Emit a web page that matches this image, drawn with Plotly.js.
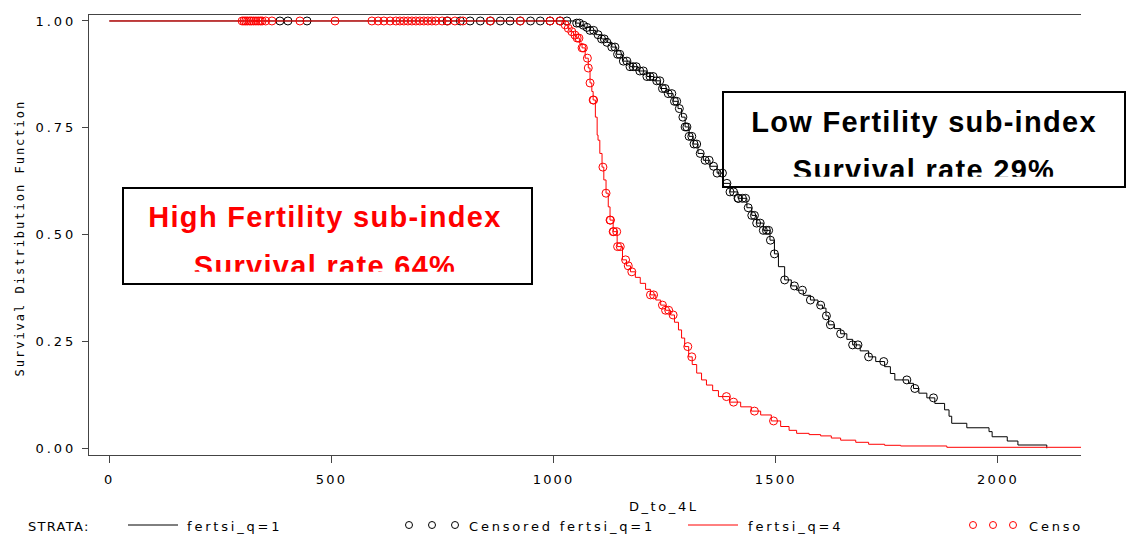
<!DOCTYPE html>
<html><head><meta charset="utf-8">
<script src="https://cdn.plot.ly/plotly-3.0.1.min.js"></script>
<style>
html,body{margin:0;padding:0;background:#fff;}
#chart{width:1126px;height:536px;}
.xtick text {letter-spacing:2.2px;}
.ytick text {letter-spacing:3px;}
.subplot.x2y2 .textpoint text, .subplot.x3y3 .textpoint text {letter-spacing:1.3px;}
.subplot.x4y4 .textpoint text {letter-spacing:2.8px;}
g.annotation[data-index="0"] text {letter-spacing:2px;}
g.annotation[data-index="1"] text {letter-spacing:2.6px;}
</style></head><body><div id="chart"></div>
<script>
// ---- data ----
var xTickVals = [0, 500, 1000, 1500, 2000];
var yTickVals = [0, 0.25, 0.5, 0.75, 1];
var yTickText = ['0.00', '0.25', '0.50', '0.75', '1.00'];

// Kaplan-Meier step curve, fertsi_q=1
var q1Time = [0,1050,1060,1070,1082,1095,1108,1120,1131,1142,1155,1172,1190,1210,1225,1240,1255,1269,1280,1288,1296,1305,1314,1325,1337,1352,1368,1382,1397,1415,1435,1446,1457,1472,1487,1497,1506,1520,1535,1547,1562,1578,1595,1605,1613,1619,1632,1646,1660,1673,1690,1709,1725,1745,1758,1768,1799,1810,1822,1840,1858,1880,1890,1896,1930,1980,1987,2021,2045,2110];
var q1Surv = [1,0.995,0.99,0.985,0.978,0.968,0.958,0.95,0.939,0.922,0.906,0.893,0.883,0.87,0.86,0.842,0.83,0.812,0.795,0.775,0.752,0.73,0.712,0.69,0.674,0.66,0.644,0.62,0.6,0.585,0.563,0.545,0.527,0.51,0.487,0.455,0.425,0.394,0.38,0.37,0.358,0.347,0.335,0.328,0.31,0.289,0.28,0.268,0.255,0.242,0.228,0.214,0.203,0.191,0.175,0.16,0.152,0.14,0.129,0.118,0.105,0.09,0.075,0.0585,0.048,0.039,0.027,0.017,0.0077,0];
// censored times, fertsi_q=1
var q1CensTime = [384,402,445,760,790,812,835,858,880,902,925,948,970,992,1015,1030,1052,1058,1067,1075,1082,1090,1100,1108,1114,1120,1131,1138,1144,1149,1157,1165,1172,1179,1186,1194,1202,1210,1217,1224,1232,1239,1245,1251,1258,1266,1272,1277,1283,1291,1296,1300,1305,1311,1316,1322,1330,1341,1350,1360,1368,1380,1390,1397,1405,1415,1416,1425,1432,1438,1446,1452,1457,1465,1472,1479,1484,1488,1497,1520,1542,1560,1578,1601,1614,1623,1646,1673,1685,1709,1743,1795,1813,1855];

// Kaplan-Meier step curve, fertsi_q=4
var q4Time = [0,1026,1032,1037,1045,1052,1058,1064,1071,1078,1082,1086,1089,1094,1098,1100,1104,1109,1113,1118,1123,1127,1134,1143,1155,1164,1173,1184,1195,1207,1218,1230,1241,1252,1263,1272,1281,1288,1295,1304,1312,1322,1333,1344,1358,1371,1396,1421,1445,1466,1490,1511,1530,1547,1575,1601,1625,1646,1680,1709,1745,1781,1885,2200];
var q4Surv = [1,0.991,0.983,0.975,0.967,0.96,0.948,0.937,0.913,0.89,0.855,0.835,0.815,0.775,0.733,0.721,0.69,0.658,0.628,0.597,0.565,0.534,0.507,0.472,0.441,0.427,0.413,0.4,0.386,0.372,0.359,0.347,0.335,0.323,0.312,0.295,0.277,0.258,0.238,0.214,0.196,0.176,0.16,0.148,0.135,0.121,0.108,0.097,0.087,0.078,0.064,0.051,0.042,0.035,0.032,0.029,0.024,0.019,0.014,0.0094,0.007,0.0054,0.0023,0.0023];
// censored times, fertsi_q=4
var q4CensTime = [299,303,307,311,316,320,325,330,335,340,344,352,366,429,508,591,605,618,632,645,654,663,672,681,690,699,708,717,726,735,749,762,778,796,857,925,992,1014,1026,1033,1041,1048,1053,1057,1064,1067,1076,1078,1082,1089,1090,1111,1118,1127,1128,1134,1135,1142,1144,1150,1162,1168,1176,1218,1225,1245,1252,1259,1269,1302,1311,1389,1405,1452,1495];

var legendLabels = ['STRATA:', 'fertsi_q=1', 'Censored fertsi_q=1', 'fertsi_q=4', 'Censored fertsi_q=4'];
var highBoxText = ['High Fertility sub-index', 'Survival rate 64%'];
var lowBoxText = ['Low Fertility sub-index', 'Survival rate 29%'];
var xTitle = 'D_to_4L';
var yTitle = 'Survival Distribution Function';

// survival value of a step curve at time t (places censor marks on the curve)
function survAt(times, surv, t) {
  var s = surv[0];
  for (var i = 0; i < times.length; i++) { if (times[i] <= t) s = surv[i]; }
  return s;
}
var q1CensSurv = q1CensTime.map(function (t) { return survAt(q1Time, q1Surv, t); });
var q4CensSurv = q4CensTime.map(function (t) { return survAt(q4Time, q4Surv, t); });

// ---- layout helpers (pixel -> paper) ----
var W = 1126, H = 536;
function px(x) { return x / W; }
function py(y) { return 1 - y / H; }

var BLACK = '#000000', RED = '#ff0000', AXIS = '#444444';
var sans = 'Liberation Sans, Arial, sans-serif';
var wide = 'DejaVu Sans, sans-serif';

var traces = [
  {x: q1Time, y: q1Surv, mode: 'lines', line: {color: BLACK, width: 1, shape: 'hv'}, hoverinfo: 'skip'},
  {x: q1CensTime, y: q1CensSurv, mode: 'markers', marker: {symbol: 'circle-open', size: 8, color: BLACK, line: {width: 1}}, hoverinfo: 'skip'},
  {x: q4Time, y: q4Surv, mode: 'lines', line: {color: RED, width: 1, shape: 'hv'}, hoverinfo: 'skip'},
  {x: q4CensTime, y: q4CensSurv, mode: 'markers', marker: {symbol: 'circle-open', size: 8, color: RED, line: {width: 1}}, hoverinfo: 'skip'},
  // box texts (clipped inside their boxes)
  {xaxis: 'x2', yaxis: 'y2', x: [325, 325], y: [219.75, 268.75], mode: 'text', text: highBoxText,
   textposition: 'middle center', textfont: {family: sans, size: 29, color: RED, weight: 'bold'}, hoverinfo: 'skip'},
  {xaxis: 'x3', yaxis: 'y3', x: [924, 924], y: [124.45, 172.75], mode: 'text', text: lowBoxText,
   textposition: 'middle center', textfont: {family: sans, size: 29, color: BLACK, weight: 'bold'}, hoverinfo: 'skip'},
  // legend row
  {xaxis: 'x4', yaxis: 'y4', x: [128, 178], y: [0.5, 0.5], mode: 'lines', line: {color: BLACK, width: 1}, hoverinfo: 'skip'},
  {xaxis: 'x4', yaxis: 'y4', x: [409, 432, 455], y: [0.5, 0.5, 0.5], mode: 'markers', marker: {symbol: 'circle-open', size: 7, color: BLACK, line: {width: 1}}, hoverinfo: 'skip'},
  {xaxis: 'x4', yaxis: 'y4', x: [688, 738], y: [0.5, 0.5], mode: 'lines', line: {color: RED, width: 1}, hoverinfo: 'skip'},
  {xaxis: 'x4', yaxis: 'y4', x: [973, 993, 1013], y: [0.5, 0.5, 0.5], mode: 'markers', marker: {symbol: 'circle-open', size: 7, color: RED, line: {width: 1}}, hoverinfo: 'skip'},
  {xaxis: 'x4', yaxis: 'y4', x: [28, 187, 469, 748, 1029], y: [0.36, 0.36, 0.36, 0.36, 0.36], mode: 'text', text: legendLabels,
   textposition: 'middle right', textfont: {family: wide, size: 13, color: BLACK}, hoverinfo: 'skip'}
];

var hidden = {visible: false, fixedrange: true, showgrid: false, zeroline: false};
var layout = {
  width: W, height: H,
  margin: {l: 0, r: 0, t: 0, b: 0},
  paper_bgcolor: '#ffffff', plot_bgcolor: 'rgba(0,0,0,0)',
  showlegend: false, hovermode: false,
  font: {family: sans, size: 13, color: BLACK},
  xaxis: {domain: [px(89), px(1081)], range: [-45.7, 2187], tickvals: xTickVals, ticks: 'outside', ticklen: 7,
          tickcolor: AXIS, tickwidth: 1, showline: true, linecolor: AXIS, linewidth: 1, mirror: true,
          ticklabelstandoff: 5,
          showgrid: false, zeroline: false, tickfont: {family: wide, size: 13, color: BLACK}, anchor: 'y', fixedrange: true},
  yaxis: {domain: [py(455), py(15)], range: [-0.0157, 1.014], tickvals: yTickVals, ticktext: yTickText,
          ticks: 'outside', ticklen: 6, tickcolor: AXIS, tickwidth: 1, showline: true, linecolor: AXIS, linewidth: 1,
          ticklabelstandoff: 3,
          mirror: false, showgrid: false, zeroline: false, tickfont: {family: wide, size: 13, color: BLACK}, anchor: 'x', fixedrange: true},
  xaxis2: Object.assign({domain: [px(123), px(532)], range: [123, 532], anchor: 'y2'}, hidden),
  yaxis2: Object.assign({domain: [py(271.7), py(188)], range: [271.7, 188], anchor: 'x2'}, hidden),
  xaxis3: Object.assign({domain: [px(723), px(1125)], range: [723, 1125], anchor: 'y3'}, hidden),
  yaxis3: Object.assign({domain: [py(176.7), py(92)], range: [176.7, 92], anchor: 'x3'}, hidden),
  xaxis4: Object.assign({domain: [0, px(1081)], range: [0, 1081], anchor: 'y4'}, hidden),
  yaxis4: Object.assign({domain: [0, py(514)], range: [0, 1], anchor: 'x4'}, hidden),
  shapes: [
    {type: 'rect', xref: 'paper', yref: 'paper', x0: px(123), x1: px(532), y0: py(284), y1: py(188),
     line: {color: BLACK, width: 2}, fillcolor: 'rgba(0,0,0,0)', layer: 'above'},
    {type: 'rect', xref: 'paper', yref: 'paper', x0: px(723), x1: px(1125), y0: py(187), y1: py(92),
     line: {color: BLACK, width: 2}, fillcolor: 'rgba(0,0,0,0)', layer: 'above'}
  ],
  annotations: [
    {text: yTitle, xref: 'paper', yref: 'paper', x: px(19), y: py(238.5), xanchor: 'center', yanchor: 'middle',
     textangle: -90, showarrow: false, font: {family: 'DejaVu Sans Mono, monospace', size: 12, color: BLACK}},
    {text: xTitle, xref: 'paper', yref: 'paper', x: px(664), y: py(506), xanchor: 'center', yanchor: 'middle',
     showarrow: false, font: {family: wide, size: 13, color: BLACK}}
  ]
};

Plotly.newPlot('chart', traces, layout, {staticPlot: true, displayModeBar: false}).then(function () {
  var texts = document.querySelectorAll('.subplot.x4y4 .textpoint text');
  texts.forEach(function (t) { if (t.textContent === 'STRATA:') t.style.letterSpacing = '1.3px'; });
});
</script></body></html>
